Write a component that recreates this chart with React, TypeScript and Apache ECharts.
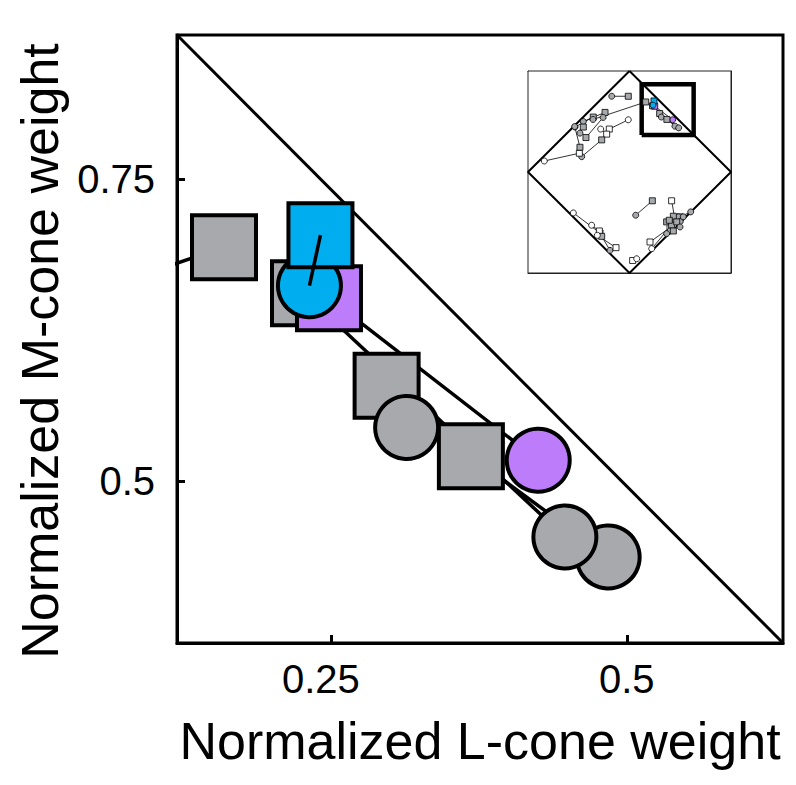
import React, { useEffect, useRef } from 'react';
import * as echarts from 'echarts';

// Main axes ranges and ticks
const xMin = 0.12;
const xMax = 0.632;
const yMin = 0.366;
const yMax = 0.869;
const xTicks = [0.25, 0.5];
const yTicks = [0.5, 0.75];
const insetTicks = [-0.5, 0, 0.5];

// Main data: square = condition 1, circle = condition 2 (paired per observer)
const pairColors = ['gray', 'gray', 'purple', 'blue', 'gray', 'gray'];
const squareL = [0.1597, 0.2273, 0.2484, 0.2412, 0.2971, 0.3683];
const squareM = [0.6935, 0.6554, 0.6513, 0.7034, 0.5788, 0.5205];
const circleL = [-0.36, 0.4477, 0.4252, 0.2319, 0.314, 0.4843];
const circleM = [0.52, 0.4537, 0.5172, 0.6616, 0.5443, 0.4371];

// Inset-only data (other cells)
const otherColors = ['gray', 'gray', 'gray', 'gray', 'gray', 'white', 'white', 'gray', 'white', 'gray',
  'white', 'white', 'gray', 'white', 'white',
  'gray', 'white', 'gray', 'white', 'white',
  'gray', 'gray', 'gray', 'gray', 'gray', 'gray'];
const otherSqL = [-0.012, -0.241, -0.357, -0.455, -0.429, -0.199, -0.225, -0.274, -0.494, -0.488,
  -0.29, -0.297, -0.274, -0.133, 0.031,
  0.225, 0.415, 0.498, 0.202, 0.399,
  0.366, 0.432, 0.415, 0.432, 0.465, 0.392];
const otherSqM = [0.75, 0.59, 0.544, 0.445, 0.341, 0.425, 0.375, 0.318, 0.186, 0.245,
  -0.604, -0.584, -0.637, -0.749, -0.876,
  -0.285, -0.285, -0.444, -0.693, -0.544,
  -0.494, -0.438, -0.527, -0.584, -0.494, -0.478];
const otherCiL = [-0.175, -0.455, -0.537, -0.488, -0.26, -0.012, -0.284, -0.471, -0.839, -0.54,
  -0.553, -0.373, -0.192, -0.317, 0.071,
  0.061, 0.448, 0.603, 0.432, 0.219,
  0.481, 0.5, 0.399, 0.366, 0.498, 0.53];
const otherCiM = [0.75, 0.5, 0.445, 0.385, 0.54, 0.517, 0.425, 0.152, 0.109, 0.45,
  -0.405, -0.527, -0.776, -0.627, -0.859,
  -0.428, -0.471, -0.395, -0.527, -0.759,
  -0.444, -0.49, -0.584, -0.61, -0.544, -0.444];

const COLORS: Record<string, string> = {
  gray: '#a7a9ac',
  purple: '#bd7dfb',
  blue: '#00aeef',
  white: '#ffffff',
};

// drawing order of the main markers (pair index, kind)
const mainOrder: [number, string][] = [
  [0, 'sq'], [1, 'sq'], [2, 'sq'], [3, 'ci'], [3, 'sq'],
  [4, 'sq'], [4, 'ci'], [5, 'sq'], [2, 'ci'], [5, 'ci'], [1, 'ci'], [0, 'ci'],
];

const FONT = '"Liberation Sans", Arial, Helvetica, sans-serif';

export default function App() {
  const ref = useRef<HTMLDivElement>(null);
  useEffect(() => {
    const chart = echarts.init(ref.current!, null, { renderer: 'svg' });
    const series: any[] = [];

    // Main: diagonal L + M = 1 (corner to corner of the plotted window)
    series.push({
      type: 'line', xAxisIndex: 0, yAxisIndex: 0, silent: true,
      data: [[xMin, yMax], [xMax, yMin]], symbol: 'none',
      lineStyle: { color: '#000', width: 3 }, z: 2,
    });
    // Main pair lines
    pairColors.forEach((c, i) => {
      series.push({
        type: 'line', xAxisIndex: 0, yAxisIndex: 0, silent: true, clip: true,
        data: [[squareL[i], squareM[i]], [circleL[i], circleM[i]]], symbol: 'none',
        lineStyle: { color: '#000', width: 3.5 }, z: c === 'blue' ? 6 : 2,
      });
    });
    // Main markers
    series.push({
      type: 'scatter', xAxisIndex: 0, yAxisIndex: 0, silent: true, clip: true, z: 4,
      itemStyle: { borderColor: '#000', borderWidth: 4, opacity: 1 },
      data: mainOrder.map(([i, k]) => ({
        value: k === 'sq' ? [squareL[i], squareM[i]] : [circleL[i], circleM[i]],
        symbol: k === 'sq' ? 'rect' : 'circle',
        symbolSize: k === 'sq' ? 64 : 63,
        itemStyle: { color: COLORS[pairColors[i]] },
      })),
    });

    // Inset: diamond |L| + |M| = 1
    series.push({
      type: 'line', xAxisIndex: 1, yAxisIndex: 1, silent: true,
      data: [[0, 1], [1, 0], [0, -1], [-1, 0], [0, 1]], symbol: 'none',
      lineStyle: { color: '#000', width: 2 }, z: 10,
    });
    // Inset: window of main plot
    series.push({
      type: 'line', xAxisIndex: 1, yAxisIndex: 1, silent: true,
      data: [[xMin, yMin], [xMax, yMin], [xMax, yMax], [xMin, yMax], [xMin, yMin]], symbol: 'none',
      lineStyle: { color: '#000', width: 4.5, join: 'miter' }, z: 10,
    });
    // Inset lines
    const allSqL = [...otherSqL, ...squareL];
    const allSqM = [...otherSqM, ...squareM];
    const allCiL = [...otherCiL, ...circleL];
    const allCiM = [...otherCiM, ...circleM];
    const allColors = [...otherColors, ...pairColors];
    allColors.forEach((_, i) => {
      series.push({
        type: 'line', xAxisIndex: 1, yAxisIndex: 1, silent: true,
        data: [[allSqL[i], allSqM[i]], [allCiL[i], allCiM[i]]], symbol: 'none',
        lineStyle: { color: '#000', width: 0.8 }, z: 11,
      });
    });
    const insetData: any[] = [];
    allColors.forEach((c, i) => {
      insetData.push({ value: [allSqL[i], allSqM[i]], symbol: 'rect', symbolSize: 6, itemStyle: { color: COLORS[c] } });
      insetData.push({ value: [allCiL[i], allCiM[i]], symbol: 'circle', symbolSize: 6, itemStyle: { color: COLORS[c] } });
    });
    series.push({
      type: 'scatter', xAxisIndex: 1, yAxisIndex: 1, silent: true, z: 12,
      itemStyle: { borderColor: '#000', borderWidth: 0.8, opacity: 1 },
      data: insetData,
    });

    const insetAxis = (pos: string) => ({
      gridIndex: 1, type: 'value', min: -1, max: 1, interval: 0.5, position: pos,
      axisLine: { show: true, onZero: false, lineStyle: { color: '#222', width: 1 } },
      axisTick: { show: true, inside: true, length: 3, customValues: insetTicks, lineStyle: { color: '#222', width: 1 } },
      axisLabel: { show: false },
      splitLine: { show: false },
    });

    const labelStyle = { fontSize: 40, color: '#000', fontFamily: FONT };

    chart.setOption({
      animation: false,
      backgroundColor: '#fff',
      grid: [
        { left: 177, top: 35, width: 606, height: 608, show: true, borderColor: '#000', borderWidth: 3, containLabel: false },
        { left: 528, top: 71, width: 203, height: 202, show: true, backgroundColor: '#fff', borderColor: '#222', borderWidth: 1, z: 8 },
      ],
      xAxis: [
        {
          gridIndex: 0, type: 'value', min: xMin, max: xMax,
          name: 'Normalized L-cone weight', nameLocation: 'middle', nameGap: 72,
          nameTextStyle: { fontSize: 52, color: '#000', fontFamily: FONT },
          axisLine: { show: true, onZero: false, lineStyle: { color: '#000', width: 3 } },
          axisTick: { show: true, inside: true, length: 8, customValues: xTicks, lineStyle: { color: '#000', width: 3 } },
          axisLabel: {
            show: true, customValues: xTicks, margin: 16, ...labelStyle,
            formatter: (v: number) => (v === xTicks[0] ? `{s|${v}}` : `{n|${v}}`),
            rich: {
              s: { ...labelStyle, padding: [0, 20, 0, 0] },
              n: { ...labelStyle },
            },
          },
          splitLine: { show: false },
        },
        insetAxis('bottom'),
        insetAxis('top'),
      ],
      yAxis: [
        {
          gridIndex: 0, type: 'value', min: yMin, max: yMax,
          name: 'Normalized M-cone weight', nameLocation: 'middle', nameGap: 98,
          nameTextStyle: { fontSize: 52, color: '#000', fontFamily: FONT, padding: [0, 24, 0, 0] },
          axisLine: { show: true, onZero: false, lineStyle: { color: '#000', width: 3 } },
          axisTick: { show: true, inside: true, length: 8, customValues: yTicks, lineStyle: { color: '#000', width: 3 } },
          axisLabel: { show: true, customValues: yTicks, margin: 22, ...labelStyle, formatter: (v: number) => String(v) },
          splitLine: { show: false },
        },
        insetAxis('left'),
        insetAxis('right'),
      ],
      series,
    });
    return () => chart.dispose();
  }, []);
  return <div ref={ref} style={{ position: 'fixed', left: 0, top: 0, width: '796px', height: '785px' }} />;
}
